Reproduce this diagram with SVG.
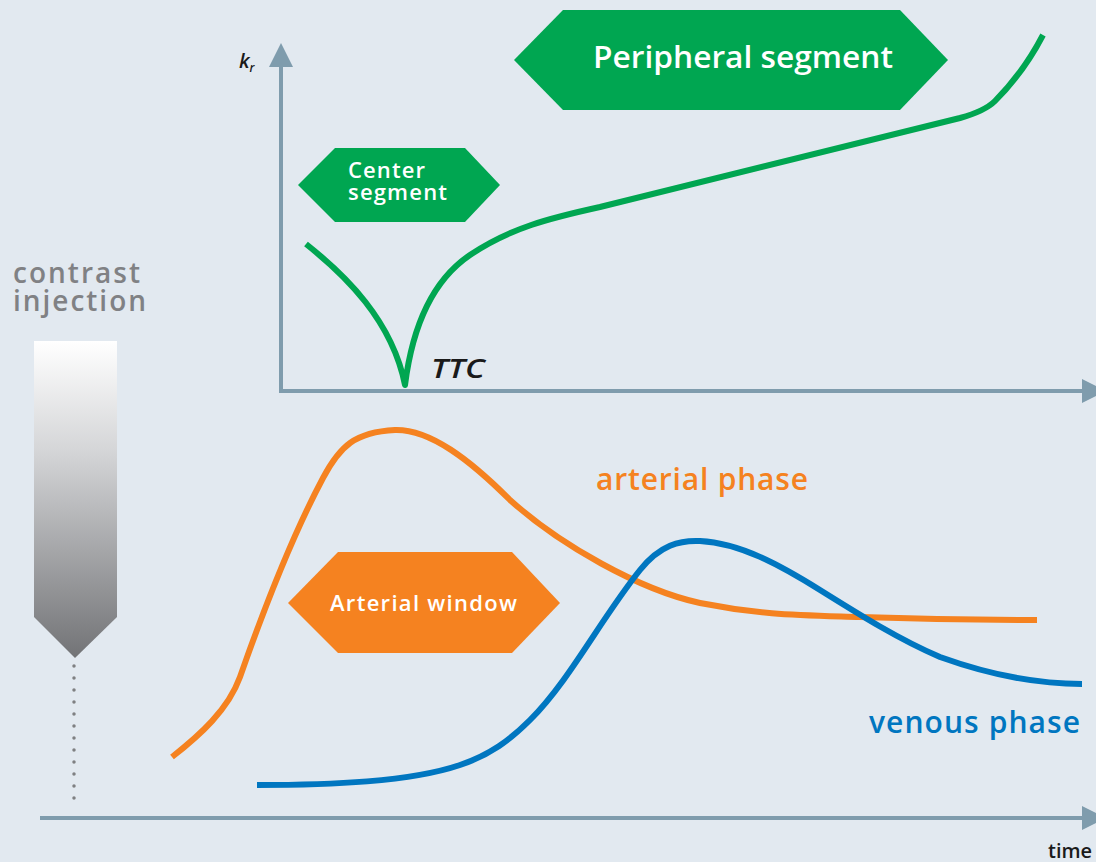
<svg xmlns="http://www.w3.org/2000/svg" width="1096" height="862" viewBox="0 0 1096 862">
<defs>
<linearGradient id="inj" x1="0" y1="0" x2="0" y2="1">
<stop offset="0" stop-color="#ffffff"/>
<stop offset="0.35" stop-color="#d4d5d7"/>
<stop offset="1" stop-color="#727376"/>
</linearGradient>
<marker id="ah" viewBox="0 0 6 6" refX="0" refY="3" markerWidth="6" markerHeight="6" markerUnits="strokeWidth" orient="auto">
<path d="M0,0 L6,3 L0,6 Z" fill="#7f9cad"/>
</marker>
</defs>
<style>
.lbl{font-family:"Open Sans","Noto Sans","DejaVu Sans",sans-serif;font-weight:600}
.hexg{fill:#00a651}
.hexo{fill:#f58220}
.w{fill:#ffffff}
.axis{stroke:#7f9cad;stroke-width:4;fill:none}
.curve{fill:none;stroke-width:6;stroke-linecap:butt}
</style>
<rect width="1096" height="862" fill="#e2e9f0"/>

<g id="axes">
<line class="axis" x1="281" y1="393" x2="281" y2="67" marker-end="url(#ah)"/>
<line class="axis" x1="279" y1="391" x2="1082" y2="391" marker-end="url(#ah)"/>
<line class="axis" x1="40" y1="818" x2="1082" y2="818" marker-end="url(#ah)"/>
<text class="lbl" x="239" y="68" font-size="20" font-weight="bold" font-style="italic" fill="#1a1a1a">k<tspan font-size="12" dy="4">r</tspan></text>
<text class="lbl" x="1048" y="858" font-size="20" font-weight="bold" fill="#1a1a1a">time</text>
</g>

<g id="injection">
<path d="M34,341 L117,341 L117,617 L75,658 L34,617 Z" fill="url(#inj)"/>
<line x1="74" y1="666" x2="74" y2="810" stroke="#7f8082" stroke-width="3.5" stroke-linecap="round" stroke-dasharray="0 12"/>
<text class="lbl" x="13" y="283" font-size="28" fill="#808184" textLength="127" lengthAdjust="spacing">contrast</text>
<text class="lbl" x="13" y="311" font-size="28" fill="#808184" textLength="133" lengthAdjust="spacing">injection</text>
</g>

<g id="connectors">
<path class="curve" stroke="#00a651" stroke-linejoin="round" d="M306,244 C345,275 392,320 405,385 C412,330 430,282 470,255 C510,228 550,218 600,207 L960,118 C978,113 988,108 995,101 C1012,84 1030,60 1043,35"/>
<path class="curve" stroke="#f58220" d="M172,757 C200,735 228,710 240,677 C260,620 290,540 323,478 C340,446 355,432 395,430 C430,429 470,460 510,500 C560,545 640,590 700,603 C760,615 800,615 860,617 C950,620 1000,620 1037,620"/>
<path class="curve" stroke="#0076c0" d="M257,785 C330,785 410,782 460,765 C490,755 510,740 530,720 C570,680 600,620 640,570 C660,545 680,540 700,541 C740,543 780,565 820,590 C860,615 900,640 940,657 C990,675 1040,684 1082,684"/>
</g>

<g id="peripheral-segment">
<polygon class="hexg" points="514,60 563,10 900,10 948,60 900,110 563,110"/>
<text class="lbl w" x="593" y="68" font-size="31" textLength="300" lengthAdjust="spacingAndGlyphs">Peripheral segment</text>
</g>

<g id="center-segment">
<polygon class="hexg" points="298,185 335,148 465,148 500,185 465,222 335,222"/>
<text class="lbl w" x="348" y="178" font-size="22" textLength="77" lengthAdjust="spacing">Center</text>
<text class="lbl w" x="348" y="200" font-size="22" textLength="99" lengthAdjust="spacing">segment</text>
</g>

<g id="ttc">
<text class="lbl" x="431" y="378" font-size="27" font-weight="bold" font-style="italic" fill="#1a1a1a" textLength="54" lengthAdjust="spacingAndGlyphs">TTC</text>
</g>

<g id="arterial-window">
<polygon class="hexo" points="288,603 338,552 512,552 560,603 512,653 338,653"/>
<text class="lbl w" x="330" y="611" font-size="22" textLength="187" lengthAdjust="spacing">Arterial window</text>
</g>

<g id="arterial-phase">
<text class="lbl" x="596" y="490" font-size="30" fill="#f58220" textLength="212" lengthAdjust="spacing">arterial phase</text>
</g>

<g id="venous-phase">
<text class="lbl" x="869" y="733" font-size="30" fill="#0076c0" textLength="211" lengthAdjust="spacing">venous phase</text>
</g>
</svg>
